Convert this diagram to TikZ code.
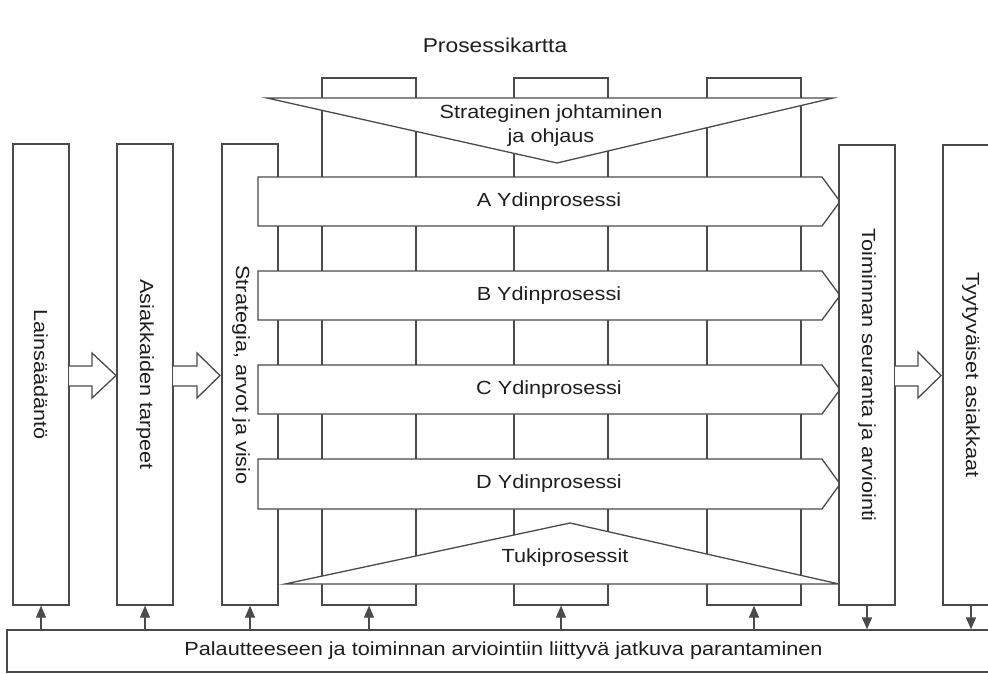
\documentclass[tikz,border=0pt]{standalone}
\usepackage{fontspec}
\setmainfont{Liberation Sans}[FakeStretch=1.14]
\usetikzlibrary{arrows.meta}
\definecolor{ln}{HTML}{4A4A4A}
\definecolor{tx}{HTML}{1E1E1E}
\tikzset{
  box/.style={draw=ln, line width=1.3pt, fill=white, inner sep=0pt, rectangle},
  lbl/.style={text=tx, inner sep=0pt, font=\fontsize{19pt}{24pt}\selectfont, align=center},
  shp/.style={draw=ln, line width=1.3pt, fill=white, line join=miter},
  fbarr/.style={draw=ln, fill=ln, line width=1.3pt, arrows={-Triangle[length=12pt,width=10pt,fill=ln]}},
}
\begin{document}
\begin{tikzpicture}[x=1pt,y=-1pt]
\useasboundingbox (0,0) rectangle (988,673);
\clip (0,0) rectangle (988,673);
% title
\node[lbl, font=\fontsize{20pt}{24pt}\selectfont] (title) at (495,45) {Prosessikartta};
% middle columns
\node[box, minimum width=94pt, minimum height=527pt] (m1) at (369,341.5) {};
\node[box, minimum width=94pt, minimum height=527pt] (m2) at (561,341.5) {};
\node[box, minimum width=94pt, minimum height=527pt] (m3) at (754,341.5) {};
% side columns
\node[box, minimum width=56pt, minimum height=461pt] (lain) at (41,374.5) {};
\node[box, minimum width=56pt, minimum height=461pt] (asiak) at (145,374.5) {};
\node[box, minimum width=56pt, minimum height=461pt] (strat) at (250,374.5) {};
\node[lbl, rotate=-90] (laint) at (lain.center) {Lainsäädäntö};
\node[lbl, rotate=-90] (asiakt) at (asiak.center) {Asiakkaiden tarpeet};
% top triangle
\draw[shp] (267,98) -- (833,98) -- (557,163) -- cycle;
\node[lbl] (strjoh) at (551,126) {Strateginen johtaminen\\ja ohjaus};
% process arrows
\draw[shp] (258,177) -- (822,177) -- (840,201.5) -- (822,226) -- (258,226) -- cycle;
\node[lbl] (pA) at (549,201.5) {A Ydinprosessi};
\draw[shp] (258,271) -- (822,271) -- (840,295.5) -- (822,320) -- (258,320) -- cycle;
\node[lbl] (pB) at (549,295.5) {B Ydinprosessi};
\draw[shp] (258,365) -- (822,365) -- (840,389.5) -- (822,414) -- (258,414) -- cycle;
\node[lbl] (pC) at (549,389.5) {C Ydinprosessi};
\draw[shp] (258,459) -- (822,459) -- (840,484) -- (822,509) -- (258,509) -- cycle;
\node[lbl] (pD) at (549,484) {D Ydinprosessi};
\node[lbl, rotate=-90] (stratt) at (241,375) {Strategia, arvot ja visio};
% bottom triangle
\draw[shp] (285,584) -- (839,584) -- (570,523) -- cycle;
\node[lbl] (tuki) at (565,558) {Tukiprosessit};
% right columns
\node[box, minimum width=56pt, minimum height=460pt] (toim) at (867,375) {};
\node[box, minimum width=56pt, minimum height=460pt] (tyyt) at (971,375) {};
\node[lbl, rotate=-90] (toimt) at (toim.center) {Toiminnan seuranta ja arviointi};
\node[lbl, rotate=-90] (tyytt) at (tyyt.center) {Tyytyväiset asiakkaat};
% block arrows
\draw[shp] (69,366) -- (92,366) -- (92,353) -- (116,375.5) -- (92,398) -- (92,386) -- (69,386);
\draw[shp] (173,366) -- (197,366) -- (197,353) -- (220,375.5) -- (197,398) -- (197,386) -- (173,386);
\draw[shp] (895,366) -- (918,366) -- (918,352) -- (941,375.5) -- (918,398) -- (918,386) -- (895,386);
% feedback box
\node[box, minimum width=993pt, minimum height=42pt, text=tx, font=\fontsize{19pt}{24pt}\selectfont] (fb) at (503.5,651) {Palautteeseen ja toiminnan arviointiin liittyvä jatkuva parantaminen};
% feedback arrows
\draw[fbarr] (fb.north -| lain.south) -- (lain.south);
\draw[fbarr] (fb.north -| asiak.south) -- (asiak.south);
\draw[fbarr] (fb.north -| strat.south) -- (strat.south);
\draw[fbarr] (fb.north -| m1.south) -- (m1.south);
\draw[fbarr] (fb.north -| m2.south) -- (m2.south);
\draw[fbarr] (fb.north -| m3.south) -- (m3.south);
\draw[fbarr] (toim.south) -- (fb.north -| toim.south);
\draw[fbarr] (tyyt.south) -- (fb.north -| tyyt.south);
\end{tikzpicture}
\end{document}
